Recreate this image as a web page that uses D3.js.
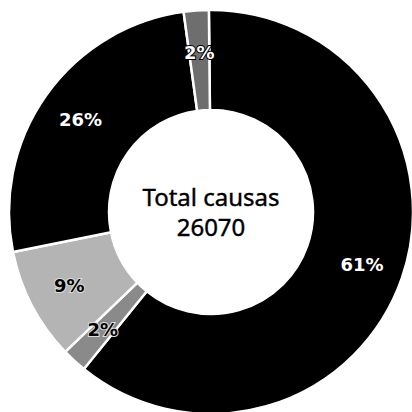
<!DOCTYPE html>
<html>
<head>
<meta charset="utf-8">
<script src="https://cdn.jsdelivr.net/npm/d3@7"></script>
<style>
  body { margin: 0; background: #fff; }
  svg { display: block; }
</style>
</head>
<body>
<svg width="412" height="412"></svg>
<script>
// slices clockwise from 12 o'clock
var labels = ["61%", "2%", "9%", "26%", "2%"];
var values = [61, 2, 9, 26, 2];
var fills = ["#000", "#8a8a8a", "#b4b4b4", "#000", "#6e6e6e"];
var textFill = ["#fff", "#000", "#000", "#fff", "#fff"];
var centerLines = ["Total causas", "26070"];

var svg = d3.select("svg");
var cx = 211, cy = 212;
var outer = 202, inner = 102;

var pie = d3.pie()
    .sort(null)
    .startAngle(-0.6 * Math.PI / 180)
    .endAngle(2 * Math.PI - 0.6 * Math.PI / 180);

var arc = d3.arc().innerRadius(inner).outerRadius(outer);
var labelArc = d3.arc().innerRadius(160).outerRadius(160);

var g = svg.append("g")
    .attr("transform", "translate(" + cx + "," + cy + ")");

var arcs = pie(values);

g.selectAll("path")
    .data(arcs)
    .enter().append("path")
    .attr("d", arc)
    .attr("fill", function (d, i) { return fills[i]; })
    .attr("stroke", "#fff")
    .attr("stroke-width", 2.5);

g.selectAll("text.pct")
    .data(arcs)
    .enter().append("text")
    .attr("class", "pct")
    .attr("transform", function (d) { return "translate(" + labelArc.centroid(d) + ")"; })
    .attr("text-anchor", "middle")
    .attr("dy", "0.35em")
    .style("font-family", "'DejaVu Sans', sans-serif")
    .style("font-weight", "bold")
    .style("font-size", "18px")
    .style("paint-order", "stroke")
    .attr("stroke", function (d, i) { return textFill[i] == "#fff" ? "#000" : "#ddd"; })
    .attr("stroke-width", 2)
    .attr("fill", function (d, i) { return textFill[i]; })
    .text(function (d, i) { return labels[i]; });

g.selectAll("text.center")
    .data(centerLines)
    .enter().append("text")
    .attr("class", "center")
    .attr("text-anchor", "middle")
    .attr("y", function (d, i) { return -6 + i * 30; })
    .style("font-family", "'Noto Sans', sans-serif")
    .style("font-size", "24px")
    .attr("fill", "#000")
    .attr("stroke", "#000")
    .attr("stroke-width", 0.4)
    .text(function (d) { return d; });
</script>
</body>
</html>
